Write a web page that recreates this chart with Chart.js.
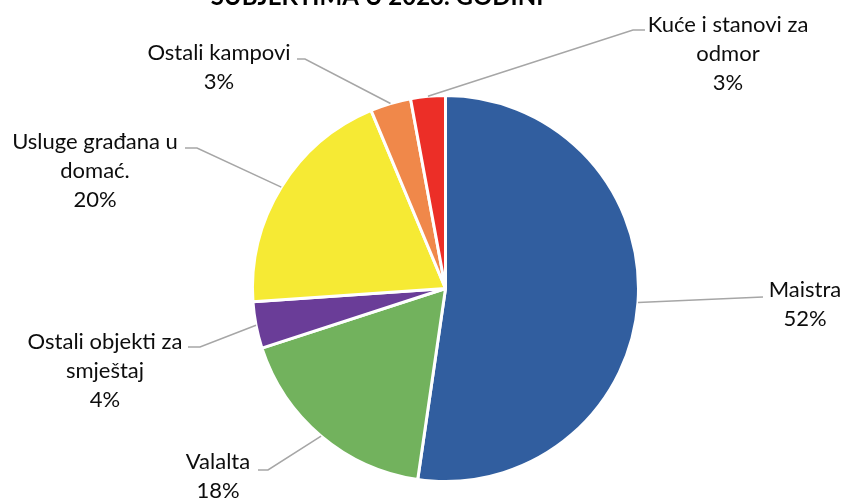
<!DOCTYPE html>
<html>
<head>
<meta charset="utf-8">
<script src="https://cdn.jsdelivr.net/npm/chart.js@4.4.0/dist/chart.umd.min.js"></script>
<style>
  html, body { margin: 0; padding: 0; background: #fff; }
  #wrap { width: 845px; height: 499px; }
</style>
</head>
<body>
<div id="wrap"><canvas id="pie" width="845" height="499"></canvas></div>
<script>
// data (clockwise from 12 o'clock)
const categories = ['Maistra', 'Valalta', 'Ostali objekti za smještaj', 'Usluge građana u domać.', 'Ostali kampovi', 'Kuće i stanovi za odmor'];
const labelLines = [
  ['Maistra'],
  ['Valalta'],
  ['Ostali objekti za', 'smještaj'],
  ['Usluge građana u', 'domać.'],
  ['Ostali kampovi'],
  ['Kuće i stanovi za', 'odmor']
];
const shares = [52.3, 17.7, 3.9, 19.8, 3.4, 2.9];
const colors = ['#315E9F', '#72B25D', '#6A3D98', '#F6EA34', '#F0884A', '#EC2E27'];

// label layout: text centre x, first line y, elbow point, line end
const labelLayout = [
  { x: 805, y: 290, elbow: [763, 297], end: [763, 297] },
  { x: 218, y: 462, elbow: [268, 470], end: [258, 470] },
  { x: 105, y: 342, elbow: [200, 347], end: [188, 347] },
  { x: 95,  y: 142, elbow: [197, 148], end: [185, 148] },
  { x: 219, y: 53,  elbow: [305, 59],  end: [297, 59] },
  { x: 728, y: 25,  elbow: [633, 30],  end: [645, 30] }
];

const FONT = '22px Lato, "Open Sans", sans-serif';
const LINE_H = 29;

const calloutPlugin = {
  id: 'callouts',
  afterDatasetsDraw(chart) {
    const ctx = chart.ctx;
    const meta = chart.getDatasetMeta(0);
    const total = shares.reduce((a, b) => a + b, 0);
    ctx.save();
    meta.data.forEach((arc, i) => {
      const mid = (arc.startAngle + arc.endAngle) / 2;
      const sx = arc.x + Math.cos(mid) * arc.outerRadius;
      const sy = arc.y + Math.sin(mid) * arc.outerRadius;
      const lay = labelLayout[i];
      ctx.strokeStyle = '#A6A6A6';
      ctx.lineWidth = 1.5;
      ctx.beginPath();
      ctx.moveTo(sx, sy);
      ctx.lineTo(lay.elbow[0], lay.elbow[1]);
      ctx.lineTo(lay.end[0], lay.end[1]);
      ctx.stroke();

      const lines = labelLines[i].concat([Math.round(shares[i] / total * 100) + '%']);
      ctx.fillStyle = '#0d0d0d';
      ctx.font = FONT;
      ctx.textAlign = 'center';
      ctx.textBaseline = 'middle';
      lines.forEach((t, k) => ctx.fillText(t, lay.x, lay.y + k * LINE_H));
    });

    // title (top part is cut off in the original)
    ctx.font = 'bold 24px Lato, "Open Sans", sans-serif';
    ctx.fillStyle = '#000';
    ctx.textBaseline = 'alphabetic';
    ctx.fillText('SUBJEKTIMA U 2023. GODINI', 377, 5);
    ctx.restore();
  }
};

new Chart(document.getElementById('pie'), {
  type: 'pie',
  data: {
    labels: categories,
    datasets: [{
      data: shares,
      backgroundColor: colors,
      borderColor: '#ffffff',
      borderWidth: 3
    }]
  },
  options: {
    responsive: false,
    animation: false,
    layout: { padding: { top: 94, bottom: 16, left: 251, right: 205 } },
    plugins: {
      legend: { display: false },
      tooltip: { enabled: false }
    }
  },
  plugins: [calloutPlugin]
});
</script>
</body>
</html>
